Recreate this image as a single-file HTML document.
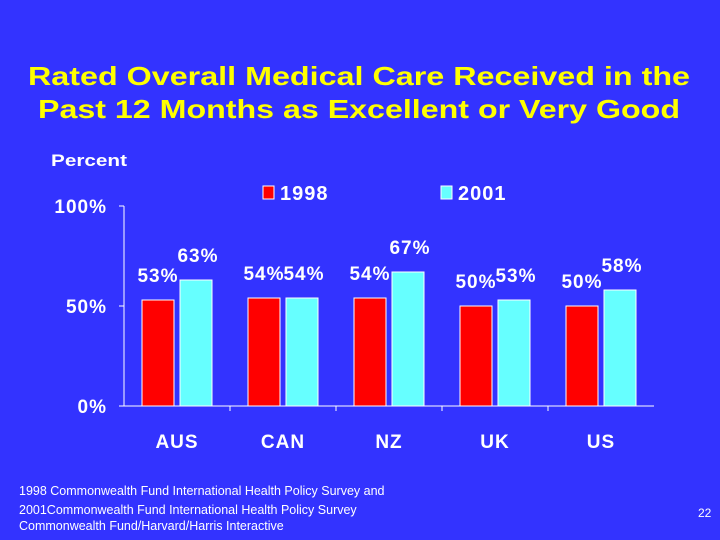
<!DOCTYPE html>
<html><head><meta charset="utf-8"><style>
html,body{margin:0;padding:0;background:#3333FF;}
svg{display:block;font-family:"Liberation Sans",Arial,sans-serif;}
</style></head><body>
<svg id="chart" width="720" height="540" viewBox="0 0 720 540">
<rect width="720" height="540" fill="#3333FF"/>
<text x="359" y="85" fill="#FFFF00" font-size="26" font-weight="bold" text-anchor="middle" textLength="662" lengthAdjust="spacingAndGlyphs">Rated Overall Medical Care Received in the</text>
<text x="359" y="118" fill="#FFFF00" font-size="26" font-weight="bold" text-anchor="middle" textLength="642" lengthAdjust="spacingAndGlyphs">Past 12 Months as Excellent or Very Good</text>
<text x="51" y="166" fill="#fff" font-size="17" font-weight="bold" textLength="76" lengthAdjust="spacingAndGlyphs">Percent</text>
<g>
<rect x="263" y="186" width="11" height="13" fill="#FF0000" stroke="#fff" stroke-width="1"/>
<text x="280" y="200" fill="#fff" font-size="20" font-weight="bold" letter-spacing="1">1998</text>
<rect x="441" y="186" width="11" height="13" fill="#66FFFF" stroke="#fff" stroke-width="1"/>
<text x="458" y="200" fill="#fff" font-size="20" font-weight="bold" letter-spacing="1">2001</text>
</g>
<g id="plot"></g>
<text x="19" y="495" fill="#fff" font-size="12.5">1998 Commonwealth Fund International Health Policy Survey and</text>
<text x="19" y="514" fill="#fff" font-size="12.5">2001Commonwealth Fund International Health Policy Survey</text>
<text x="19" y="530" fill="#fff" font-size="12.5">Commonwealth Fund/Harvard/Harris Interactive</text>
<text x="698" y="517" fill="#fff" font-size="12">22</text>
</svg>
<script>
const categories = ["AUS","CAN","NZ","UK","US"];
const values1998 = [53,54,54,50,50];
const values2001 = [63,54,67,53,58];
const yTicks = [0,50,100];
const yTickLabels = ["0%","50%","100%"];

const NS="http://www.w3.org/2000/svg";
const g=document.getElementById('plot');
const x0=124,x1=654,yBase=406,yTop=206;
const band=(x1-x0)/categories.length;
function y(v){return yBase-(v/100)*(yBase-yTop);}
function cx(i){return x0+band*(i+0.5);}
function mk(t,a,txt){const e=document.createElementNS(NS,t);for(const k in a)e.setAttribute(k,a[k]);if(txt!==undefined)e.textContent=txt;g.appendChild(e);return e;}

let ax=mk('line',{x1:x0,y1:yTop,x2:x0,y2:yBase,stroke:'#fff','stroke-width':1});


let bx=mk('line',{x1:x0-4,y1:yBase,x2:x1,y2:yBase,stroke:'#fff','stroke-width':1});



yTicks.forEach((t,i)=>{
  let tk=mk('line',{x1:x0-5,y1:y(t),x2:x0,y2:y(t),stroke:'#fff'});
  
  
  let l=mk('text',{x:107,y:y(t)+7,fill:'#fff','font-size':19,'font-weight':'bold','letter-spacing':1,'text-anchor':'end'},yTickLabels[i]);
  
  
});

categories.forEach((c,i)=>{
  if(i>0){let tk=mk('line',{x1:x0+band*i,y1:yBase,x2:x0+band*i,y2:yBase+5,stroke:'#fff'});
  
  }
  let cl=mk('text',{x:cx(i),y:448,fill:'#fff','font-size':19,'font-weight':'bold','letter-spacing':1,'text-anchor':'middle'},c);
  
  
  const v1=values1998[i],v2=values2001[i];
  let r1=mk('rect',{x:cx(i)-35,y:y(v1),width:32,height:yBase-y(v1),fill:'#FF0000',stroke:'#fff','stroke-width':1});
  
  
  let r2=mk('rect',{x:cx(i)+3,y:y(v2),width:32,height:yBase-y(v2),fill:'#66FFFF',stroke:'#fff','stroke-width':1});
  
  
  let t1=mk('text',{x:cx(i)-19,y:y(v1)-18,fill:'#fff','font-size':19,'font-weight':'bold','letter-spacing':1,'text-anchor':'middle'},v1+'%');
  
  
  let t2=mk('text',{x:cx(i)+21,y:y(v2)-18,fill:'#fff','font-size':19,'font-weight':'bold','letter-spacing':1,'text-anchor':'middle'},v2+'%');
  
  
});
</script>
</body></html>
